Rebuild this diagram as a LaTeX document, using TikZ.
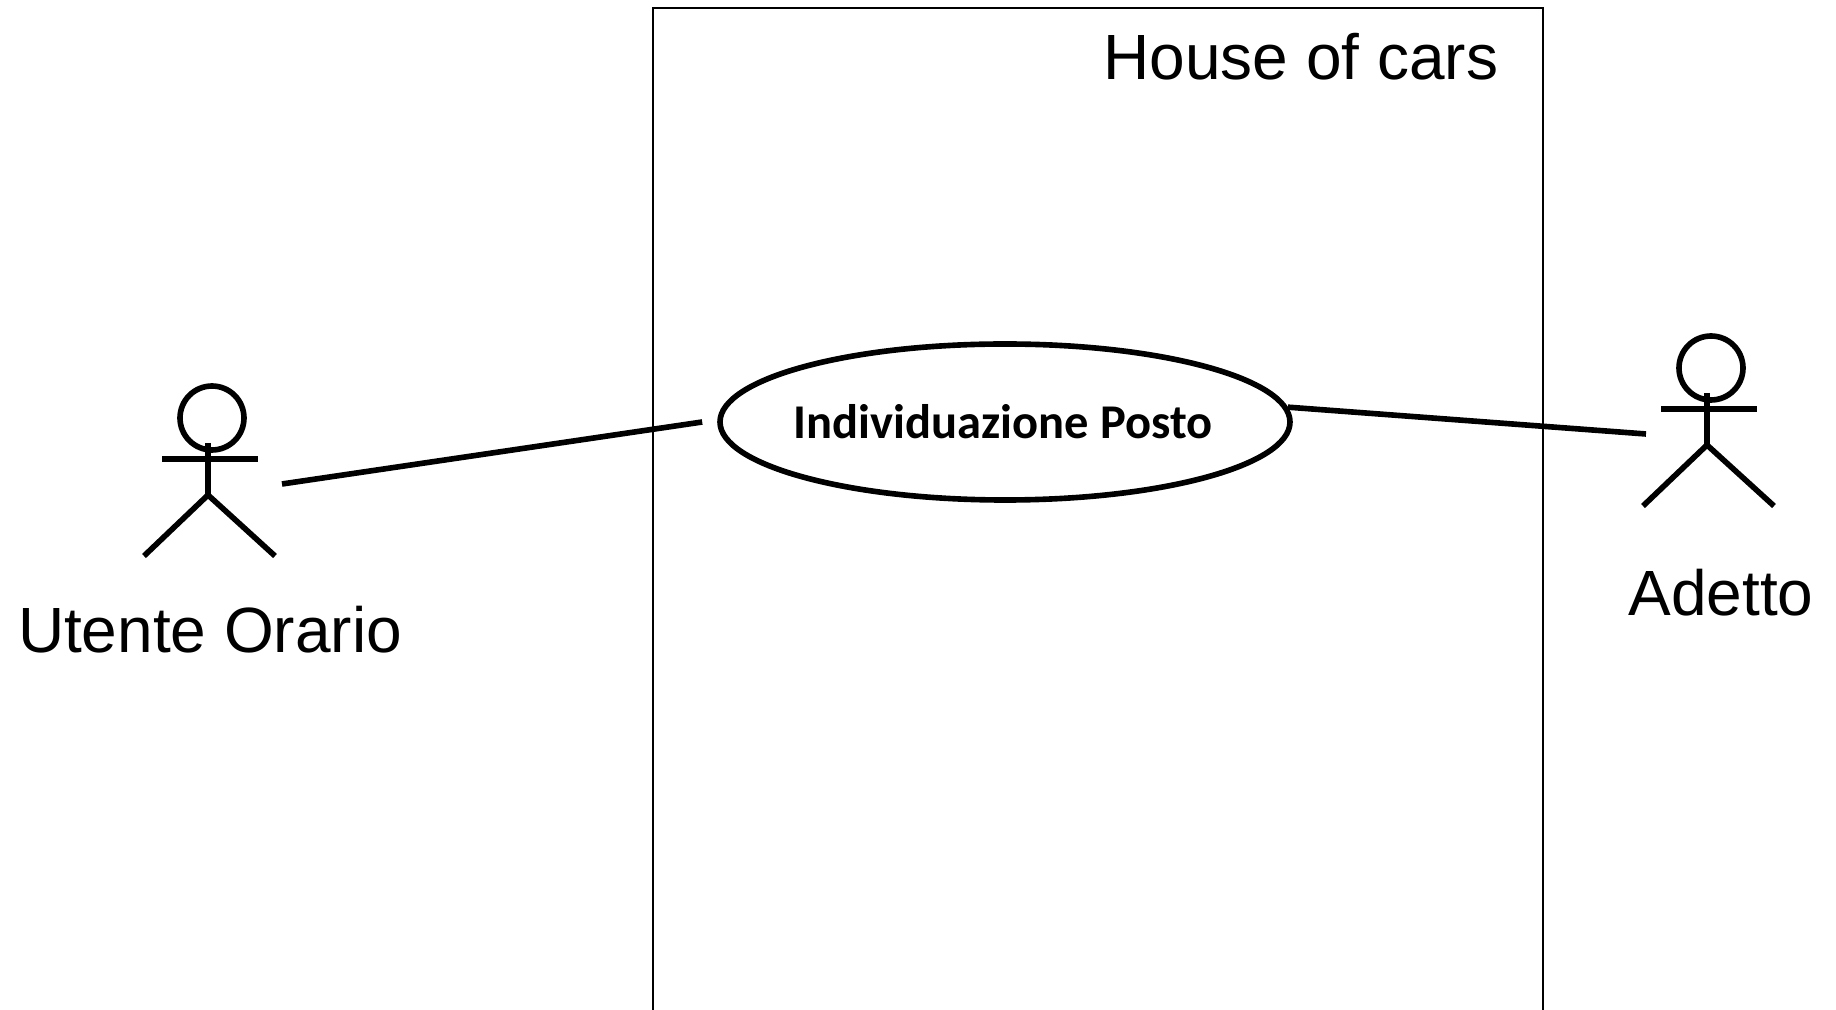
\documentclass[tikz,border=0pt]{standalone}
\usepackage{fontspec}
\setmainfont{Liberation Sans}
\newfontfamily\ucfont{Carlito}
\usetikzlibrary{shapes.geometric}
\begin{document}
\begin{tikzpicture}[x=0.1mm,y=-0.1mm,
		frame/.style={line width=0.4pt},
		stick/.style={line width=1.6pt},
		assoc/.style={line width=1.6pt},
		usecase/.style={draw,ellipse,line width=1.6pt,minimum width=57mm,minimum height=15.6mm,inner sep=0pt},
		actorname/.style={font=\fontsize{18.2}{22}\selectfont,inner sep=0pt,anchor=base}]
	\useasboundingbox (0,0) rectangle (1836,1010);
	% system boundary
	\draw[frame] (653,1020) -- (653,8) -- (1543,8) -- (1543,1020);
	\node[actorname,anchor=base east] (system) at (1499,80) {House of cars};
	% use case
	\node[usecase] (uc) at (1005,422) {};
	\node[font=\ucfont\bfseries\fontsize{13.8}{16}\selectfont,inner sep=0pt] (uctext) at (1003,422) {Individuazione Posto};
	% actors
	\foreach \hx/\hy in {208/495,1707/445}{
		\draw[stick] (\hx+4,\hy-77) circle[radius=32];
		\draw[stick] (\hx,\hy-52) -- (\hx,\hy);
		\draw[stick] (\hx-46,\hy-36) -- (\hx+50,\hy-36);
		\draw[stick] (\hx-64,\hy+61) -- (\hx,\hy) -- (\hx+67,\hy+61);
	}
	\node[actorname] (luorario) at (210,653) {Utente Orario};
	\node[actorname] (ladetto) at (1721,616) {Adetto};
	\coordinate (uorario) at (282,484);
	\coordinate (adetto) at (1646,434);
	% associations
	\draw[assoc] (uorario) -- ([xshift=-1.5mm]uc.west);
	\draw[assoc] (uc.3) -- (adetto);
\end{tikzpicture}
\end{document}
